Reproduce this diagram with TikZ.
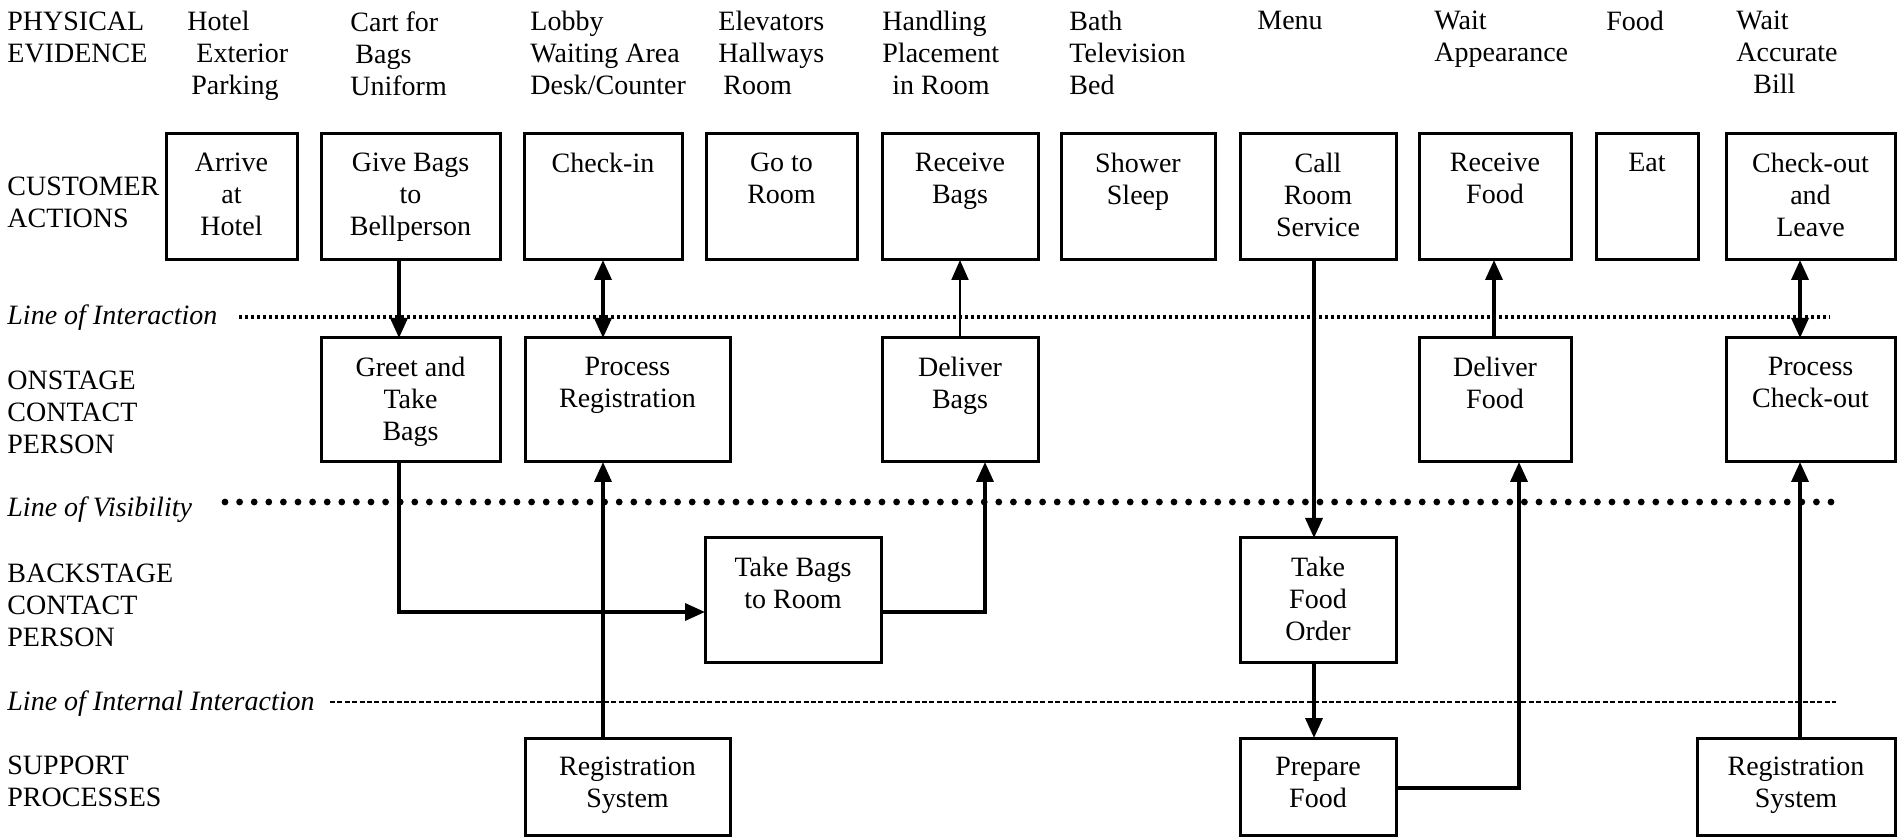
\documentclass[tikz,border=0pt]{standalone}
\usepackage{fontspec}
\setmainfont{Liberation Serif}
\usetikzlibrary{arrows.meta,fit,calc}
\newcommand{\bx}[6]{%
  \node[box, fit={(#2,#3) (#4,#5)}] (#1) {};
  \node[btxt] (#1-t) at ($(#1.north)+(0,19)$) {#6};}
\begin{document}
\begin{tikzpicture}[x=0.5pt,y=-0.5pt,
  txtfont/.style={font=\fontsize{14}{16}\selectfont},
  box/.style={draw, line width=1.5pt, inner sep=0pt, outer sep=0pt},
  btxt/.style={txtfont, align=center, inner sep=0pt, anchor=north},
  rowlab/.style={txtfont, align=left, inner sep=0pt, anchor=north west},
  pe/.style={txtfont, align=left, inner sep=0pt, anchor=north west},
  linelab/.style={font=\fontsize{14}{16}\selectfont\itshape, inner sep=0pt, anchor=base west},
  conn/.style={line width=1.8pt, -{Triangle[length=10pt,width=8.5pt]}},
  dconn/.style={line width=1.8pt, {Triangle[length=10pt,width=8.5pt]}-{Triangle[length=10pt,width=8.5pt]}},
  thinconn/.style={line width=1pt, -{Triangle[length=10pt,width=8.5pt]}},
  interline/.style={line width=1.8pt, dash pattern=on 1.6pt off 1.4pt},
  visline/.style={line width=3.4pt, line cap=round, dash pattern=on 0pt off 7.3pt},
  intline/.style={line width=0.7pt, dash pattern=on 2.5pt off 1.2pt}]
\useasboundingbox (0,0) rectangle (1899,838);

% row labels
\node[rowlab] (r-pe) at (7,12) {PHYSICAL\\EVIDENCE};
\node[rowlab] (r-ca) at (7,177) {CUSTOMER\\ACTIONS};
\node[rowlab] (r-on) at (7,371) {ONSTAGE\\CONTACT\\PERSON};
\node[rowlab] (r-bs) at (7,564) {BACKSTAGE\\CONTACT\\PERSON};
\node[rowlab] (r-sp) at (7,756) {SUPPORT\\PROCESSES};

% line labels and lines
\node[linelab] (l-int) at (7,325) {Line of Interaction};
\node[linelab] (l-vis) at (7,517) {Line of Visibility};
\node[linelab] (l-iin) at (7,710) {Line of Internal Interaction};
\coordinate (li-s) at (239,317); \coordinate (li-e) at (1830,317);
\coordinate (lv-s) at (225,502); \coordinate (lv-e) at (1832,502);
\coordinate (lii-s) at (330,702); \coordinate (lii-e) at (1836,702);
\draw[interline] (li-s) -- (li-e);
\draw[visline] (lv-s) -- (lv-e);
\draw[intline] (lii-s) -- (lii-e);

% physical evidence
\node[pe] (pe1) at (187,11) {Hotel\\\hspace{4.5pt}Exterior\\\hspace{2pt}Parking};
\node[pe] (pe2) at (350,11) {Cart for\\\hspace{2.5pt}Bags\\Uniform};
\node[pe] (pe3) at (530,11) {Lobby\\Waiting Area\\Desk/Counter};
\node[pe] (pe4) at (718,11) {Elevators\\Hallways\\\hspace{2.5pt}Room};
\node[pe] (pe5) at (882,11) {Handling\\Placement\\\hspace{5pt}in Room};
\node[pe] (pe6) at (1069,11) {Bath\\Television\\Bed};
\node[pe] (pe7) at (1257,11) {Menu};
\node[pe] (pe8) at (1434,11) {Wait\\Appearance};
\node[pe] (pe9) at (1606,11) {Food};
\node[pe] (pe10) at (1736,11) {Wait\\Accurate\\\hspace{8.5pt}Bill};

% customer actions
\bx{arrive}{166}{134}{297}{260}{Arrive\\at\\Hotel}
\bx{give}{321}{134}{500}{260}{Give Bags\\to\\Bellperson}
\bx{checkin}{524}{134}{682}{260}{Check-in}
\bx{goroom}{706}{134}{857}{260}{Go to\\Room}
\bx{recbags}{882}{134}{1038}{260}{Receive\\Bags}
\bx{shower}{1061}{134}{1215}{260}{Shower\\Sleep}
\bx{call}{1240}{134}{1396}{260}{Call\\Room\\Service}
\bx{recfood}{1419}{134}{1571}{260}{Receive\\Food}
\bx{eat}{1596}{134}{1698}{260}{Eat}
\bx{checkout}{1726}{134}{1895}{260}{Check-out\\and\\Leave}

% onstage
\bx{greet}{321}{338}{500}{462}{Greet and\\Take\\Bags}
\bx{procreg}{525}{338}{730}{462}{Process\\Registration}
\bx{delbags}{882}{338}{1038}{462}{Deliver\\Bags}
\bx{delfood}{1419}{338}{1571}{462}{Deliver\\Food}
\bx{proccheck}{1726}{338}{1895}{462}{Process\\Check-out}

% backstage
\bx{takebags}{705}{538}{881}{662}{Take Bags\\to Room}
\bx{takefood}{1240}{538}{1396}{662}{Take\\Food\\Order}

% support
\bx{regsys1}{525}{738}{730}{835}{Registration\\System}
\bx{prepfood}{1240}{738}{1396}{835}{Prepare\\Food}
\bx{regsys2}{1697}{738}{1895}{835}{Registration\\System}

% connector columns / rows
\coordinate (c1) at (399,0);
\coordinate (c2) at (603,0);
\coordinate (c4) at (1314,0);
\coordinate (c5) at (1494,0);
\coordinate (c6) at (1800,0);
\coordinate (c9) at (985,0);
\coordinate (c11) at (1519,0);
\coordinate (r1) at (0,612);
\coordinate (r2) at (0,788);

\draw[conn] (give.south -| c1) -- (greet.north -| c1);
\draw[dconn] (checkin.south -| c2) -- (procreg.north -| c2);
\draw[thinconn] (delbags.north) -- (recbags.south);
\draw[conn] (call.south -| c4) -- (takefood.north -| c4);
\draw[conn] (delfood.north -| c5) -- (recfood.south -| c5);
\draw[dconn] (checkout.south -| c6) -- (proccheck.north -| c6);
\draw[conn] (greet.south -| c1) |- (takebags.west |- r1);
\draw[conn] (regsys1.north -| c2) -- (procreg.south -| c2);
\draw[conn] (takebags.east |- r1) -| (delbags.south -| c9);
\draw[conn] (takefood.south -| c4) -- (prepfood.north -| c4);
\draw[conn] (prepfood.east |- r2) -| (delfood.south -| c11);
\draw[conn] (regsys2.north -| c6) -- (proccheck.south -| c6);
\end{tikzpicture}
\end{document}
